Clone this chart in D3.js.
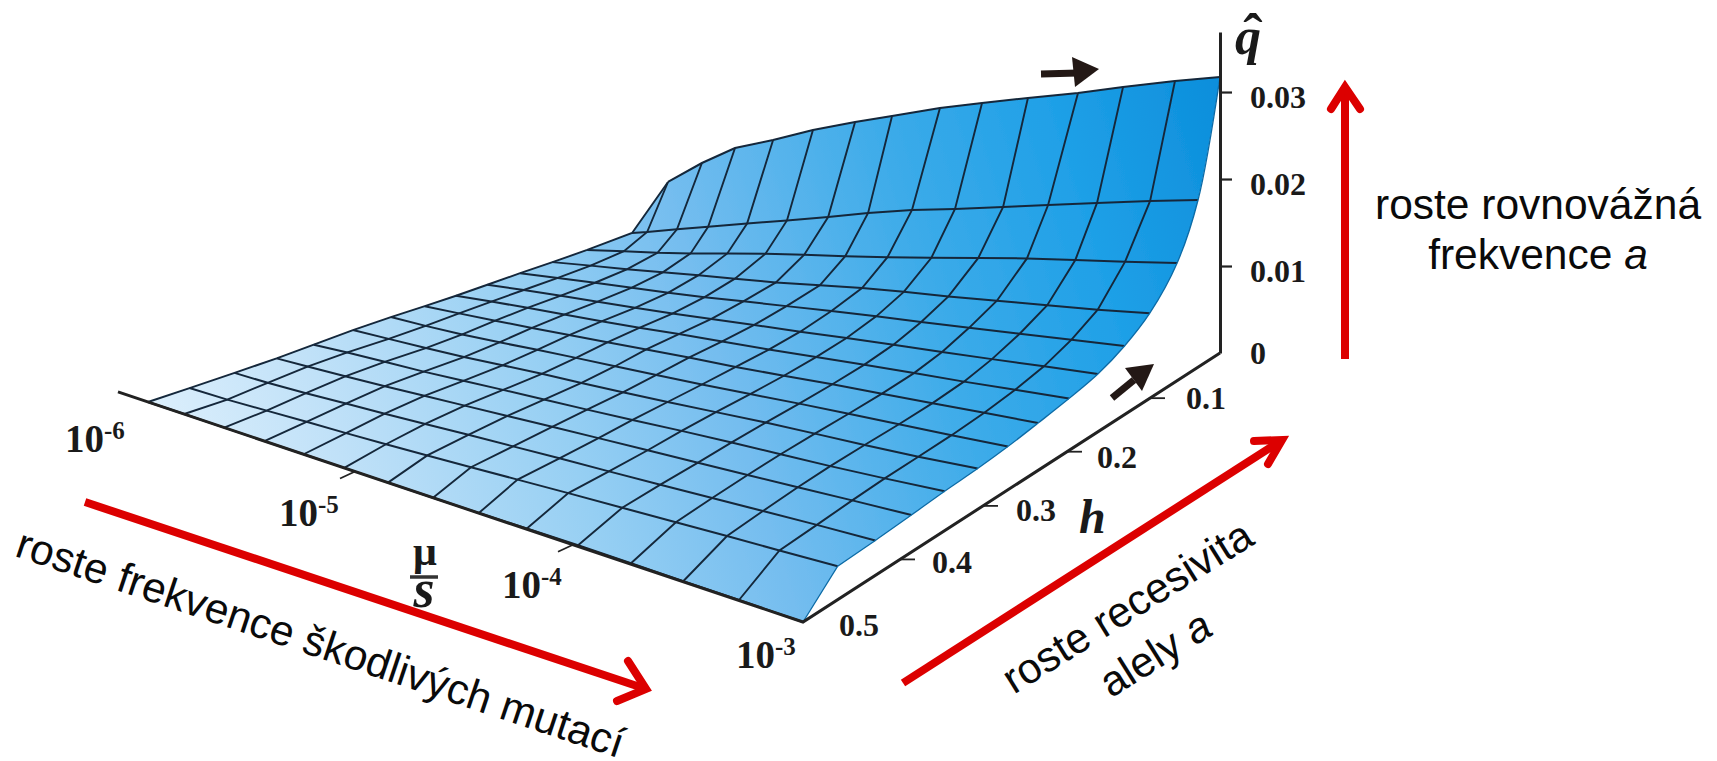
<!DOCTYPE html>
<html>
<head>
<meta charset="utf-8">
<script src="https://cdn.jsdelivr.net/npm/d3@7"></script>
<style>
  body { margin: 0; background: #fff; }
  .serif { font-family: "Liberation Serif", serif; font-weight: bold; fill: #1a1a1a; }
  .sans { font-family: "Liberation Sans", sans-serif; font-size: 42.5px; fill: #0a0a0a; }
</style>
</head>
<body>
<svg id="chart" width="1717" height="761"></svg>
<script>
const muTicks = [-6, -5, -4, -3];
const hTicks = [0.5, 0.4, 0.3, 0.2, 0.1];
const qTicks = [0, 0.01, 0.02, 0.03];

// h of every grid row, front to back
const hRows = [0.5, 0.464, 0.429, 0.386, 0.348, 0.306, 0.272, 0.238, 0.2, 0.168, 0.133, 0.103, 0.063, 0.033, 0];

// log10(mu/s) of every grid vertex, in thousandths (the mesh is not quite regular in the figure)
const muGrid = [
  [-5861, -5698, -5525, -5357, -5199, -5041, -4837, -4621, -4410, -4197, -3976, -3731, -3499, -3261, -3000],
  [-5864, -5694, -5523, -5356, -5196, -5040, -4846, -4635, -4418, -4191, -3954, -3704, -3475, -3249, -3008],
  [-5838, -5689, -5522, -5354, -5196, -5037, -4832, -4615, -4398, -4175, -3946, -3702, -3472, -3237, -2992],
  [-5856, -5716, -5550, -5381, -5219, -5058, -4859, -4639, -4419, -4194, -3969, -3731, -3499, -3257, -3004],
  [-5863, -5710, -5545, -5378, -5214, -5055, -4862, -4648, -4430, -4203, -3977, -3739, -3506, -3260, -3000],
  [-5871, -5707, -5542, -5378, -5217, -5058, -4871, -4663, -4445, -4218, -3992, -3749, -3512, -3265, -3003],
  [-5863, -5703, -5539, -5378, -5219, -5061, -4876, -4666, -4442, -4213, -3987, -3740, -3497, -3252, -3000],
  [-5871, -5712, -5549, -5388, -5230, -5073, -4890, -4671, -4438, -4207, -3980, -3729, -3482, -3238, -2993],
  [-5904, -5738, -5573, -5410, -5250, -5092, -4909, -4683, -4448, -4218, -3989, -3734, -3486, -3240, -2991],
  [-5925, -5752, -5581, -5416, -5254, -5096, -4915, -4689, -4454, -4225, -4001, -3747, -3495, -3241, -2987],
  [-5947, -5766, -5593, -5426, -5265, -5110, -4932, -4701, -4468, -4243, -4024, -3772, -3511, -3253, -2998],
  [-5939, -5755, -5585, -5421, -5262, -5105, -4911, -4674, -4453, -4241, -4021, -3762, -3499, -3244, -2990],
  [-5959, -5779, -5619, -5465, -5299, -5131, -4954, -4728, -4502, -4274, -4038, -3775, -3517, -3260, -3000],
  [-5874, -5800, -5656, -5509, -5330, -5152, -4965, -4742, -4504, -4278, -4033, -3786, -3521, -3243, -3000],
  [-5841, -5841, -5675, -5517, -5340, -5160, -4967, -4758, -4495, -4271, -4034, -3755, -3508, -3232, -3000],
];

// q-hat of every grid vertex, in units of 1e-5
const qGrid = [
  [0, 2, 0, 0, 0, 0, 0, 0, 1, 6, 10, 8, 4, 4, 0],
  [3, 10, 27, 43, 57, 73, 92, 112, 134, 157, 178, 199, 218, 234, 254],
  [51, 54, 69, 89, 107, 129, 151, 171, 191, 209, 229, 249, 268, 288, 304],
  [37, 48, 63, 82, 103, 124, 146, 168, 189, 209, 229, 247, 267, 289, 309],
  [49, 69, 83, 97, 119, 141, 161, 181, 205, 232, 255, 272, 289, 314, 346],
  [63, 75, 86, 102, 126, 150, 167, 186, 210, 239, 267, 287, 304, 328, 363],
  [88, 92, 105, 127, 154, 177, 197, 219, 242, 272, 303, 328, 351, 375, 402],
  [79, 98, 120, 145, 171, 198, 227, 255, 280, 313, 349, 378, 407, 436, 464],
  [39, 75, 108, 135, 163, 194, 232, 267, 300, 341, 383, 417, 450, 489, 526],
  [24, 68, 107, 141, 173, 209, 253, 298, 342, 389, 434, 474, 517, 563, 607],
  [9, 61, 108, 152, 193, 238, 292, 349, 407, 459, 506, 556, 610, 664, 716],
  [34, 100, 156, 219, 282, 336, 398, 475, 548, 606, 660, 724, 788, 850, 924],
  [24, 114, 189, 272, 371, 467, 554, 637, 727, 824, 929, 1030, 1116, 1200, 1291],
  [188, 244, 363, 480, 624, 765, 908, 1052, 1189, 1294, 1419, 1534, 1654, 1777, 1875],
  [791, 791, 1138, 1421, 1613, 1831, 2020, 2169, 2359, 2495, 2634, 2775, 2916, 3063, 3172],
];

const svg = d3.select("#chart");

// floor plane: (u,v) in the unit square goes to a quad on screen
const floor = { a: [148, 402], b: [803, 622], c: [1220, 353], d: [664, 238] };

function makeHomography({ a, b, c, d }) {
  const dx1 = b[0] - c[0];
  const dx2 = d[0] - c[0];
  const sx = a[0] - b[0] + c[0] - d[0];
  const dy1 = b[1] - c[1];
  const dy2 = d[1] - c[1];
  const sy = a[1] - b[1] + c[1] - d[1];
  const det = dx1 * dy2 - dx2 * dy1;
  const g = (sx * dy2 - dx2 * sy) / det;
  const h = (dx1 * sy - sx * dy1) / det;
  return (u, v) => {
    const w = 1 + g * u + h * v;
    return {
      x: (a[0] + (b[0] - a[0] + g * b[0]) * u + (d[0] - a[0] + h * d[0]) * v) / w,
      y: (a[1] + (b[1] - a[1] + g * b[1]) * u + (d[1] - a[1] + h * d[1]) * v) / w,
      w,
    };
  };
}

const homography = makeHomography(floor);
const wBack = homography(1, 1).w;

const muScale = d3.scaleLinear().domain(muTicks).range([-0.061, 0.3775, 0.708, 1]);
const hScale = d3.scaleLinear().domain([0.5, 0.4, 0.3, 0.2, 0.1, 0]).range([0, 0.1712, 0.341, 0.5403, 0.7715, 1]);
const qLift = d3.scaleLinear().domain([0, 0.01]).range([0, 87]);
const qAxisScale = d3.scaleLinear().domain([0, 0.0369]).range([floor.c[1], 32]);

function project(mu, h, q) {
  const p = homography(muScale(mu), hScale(h));
  return [p.x, p.y - (qLift(q) * wBack) / p.w];
}

const vertex = (j, i) => project(muGrid[j][i] / 1000, hRows[j], qGrid[j][i] / 100000);
const cols = d3.range(muGrid[0].length);
const rows = d3.range(hRows.length);
const rowLines = rows.map((j) => cols.map((i) => vertex(j, i)));
const colLines = cols.map((i) => rows.map((j) => vertex(j, i)));

const line = d3.line();
const curved = d3.line().curve(d3.curveCatmullRom.alpha(0.5));

// the right hand edge bends smoothly above its first cell
const edgeCol = colLines[14];
const edgePath = line(edgeCol.slice(0, 2)) + curved(edgeCol.slice(1)).replace(/^M/, "L");

// surface colour
const gradStops = [
  [0, "#dceffc"],
  [0.15, "#c0e1f8"],
  [0.35, "#96cff3"],
  [0.5, "#74bdef"],
  [0.7, "#3cabe9"],
  [0.85, "#1fa0e7"],
  [1, "#0b8edb"],
];
const defs = svg.append("defs");
const grad = defs.append("linearGradient")
  .attr("id", "surfaceFill")
  .attr("gradientUnits", "userSpaceOnUse")
  .attr("x1", floor.a[0]).attr("y1", floor.a[1])
  .attr("x2", floor.c[0]).attr("y2", 77);
grad.selectAll("stop").data(gradStops).join("stop")
  .attr("offset", (d) => d[0])
  .attr("stop-color", (d) => d[1]);
defs.append("filter").attr("id", "soft")
  .append("feGaussianBlur").attr("stdDeviation", 0.45);

const outline = [
  line(rowLines[0]),
  edgePath,
  line(rowLines[14].slice().reverse()),
  line(colLines[0].slice().reverse()),
].map((s, i) => (i ? s.replace(/^M/, "L") : s)).join("") + "Z";

const mesh = svg.append("g").attr("filter", "url(#soft)");

mesh.append("path").attr("d", outline).attr("fill", "url(#surfaceFill)");

mesh.append("g").selectAll("path").data(rowLines).join("path")
  .attr("d", line)
  .attr("fill", "none")
  .attr("stroke", "#13283a")
  .attr("stroke-width", 2);

mesh.append("g").selectAll("path").data(colLines.slice(0, 14)).join("path")
  .attr("d", line)
  .attr("fill", "none")
  .attr("stroke", "#13283a")
  .attr("stroke-width", 1.9);

mesh.append("path").attr("d", edgePath)
  .attr("fill", "none")
  .attr("stroke", "#0d6ba6")
  .attr("stroke-width", 1.3);

// floor axes
const axisColor = "#222";
const muStart = project(-6, 0.5, 0);
const corner = project(-3, 0.5, 0);
const back = project(-3, 0, 0);

svg.append("path")
  .attr("d", d3.line()([muStart, corner, back]))
  .attr("fill", "none")
  .attr("stroke", axisColor)
  .attr("stroke-width", 3);

svg.append("g").selectAll("line").data([-5, -4]).join("line")
  .attr("x1", (d) => project(d, 0.5, 0)[0])
  .attr("y1", (d) => project(d, 0.5, 0)[1])
  .attr("x2", (d) => project(d, 0.5, 0)[0] - 15)
  .attr("y2", (d) => project(d, 0.5, 0)[1] + 7)
  .attr("stroke", axisColor)
  .attr("stroke-width", 1.8);

svg.append("g").selectAll("line").data(hTicks.slice(1)).join("line")
  .attr("x1", (d) => project(-3, d, 0)[0])
  .attr("y1", (d) => project(-3, d, 0)[1])
  .attr("x2", (d) => project(-3, d, 0)[0] + 15)
  .attr("y2", (d) => project(-3, d, 0)[1])
  .attr("stroke", axisColor)
  .attr("stroke-width", 1.8);

// q axis
const qAxis = svg.append("g")
  .attr("transform", `translate(${floor.c[0]},0)`)
  .call(d3.axisRight(qAxisScale).tickValues(qTicks).tickSize(12).tickSizeOuter(0).tickPadding(18)
    .tickFormat((d) => (d === 0 ? "0" : d3.format(".2f")(d))));
qAxis.select(".domain").attr("stroke", axisColor).attr("stroke-width", 3);
qAxis.selectAll(".tick line").attr("stroke", axisColor).attr("stroke-width", 2.2)
  .attr("display", (d) => (d === 0 ? "none" : null));
qAxis.selectAll(".tick text")
  .attr("class", "serif")
  .attr("font-size", 32)
  .attr("dy", null)
  .attr("y", (d) => (d === 0 ? 10 : 15))
  .style("font-family", '"Liberation Serif", serif');

// tick labels, offsets from the tick on the axis
const muLabelOffset = { "-6": [-53, 60], "-5": [-76, 54], "-4": [-71, 53], "-3": [-67, 46] };
const muLabels = svg.append("g").selectAll("text").data(muTicks).join("text")
  .attr("class", "serif")
  .attr("font-size", 39)
  .attr("x", (d) => project(d, 0.5, 0)[0] + muLabelOffset[d][0])
  .attr("y", (d) => project(d, 0.5, 0)[1] + muLabelOffset[d][1]);
muLabels.append("tspan").text("10");
muLabels.append("tspan").attr("font-size", 25).attr("dy", -13).text((d) => d);

const hLabelOffset = { 0.5: [36, 14], 0.4: [32, 14], 0.3: [33, 15], 0.2: [30, 16], 0.1: [36, 11] };
svg.append("g").selectAll("text").data(hTicks).join("text")
  .attr("class", "serif")
  .attr("font-size", 32)
  .attr("x", (d) => project(-3, d, 0)[0] + hLabelOffset[d][0])
  .attr("y", (d) => project(-3, d, 0)[1] + hLabelOffset[d][1])
  .text((d) => d.toFixed(1));

// axis titles
svg.append("text").attr("class", "serif").attr("font-size", 52).attr("font-style", "italic")
  .attr("x", 1235).attr("y", 54).text("q");
svg.append("text").attr("class", "serif").attr("font-size", 58)
  .attr("x", 1253).attr("y", 53).attr("text-anchor", "middle").text("ˆ");
svg.append("text").attr("class", "serif").attr("font-size", 48).attr("font-style", "italic")
  .attr("x", 1079).attr("y", 533).text("h");
svg.append("text").attr("class", "serif").attr("font-size", 42)
  .attr("x", 425).attr("y", 565).attr("text-anchor", "middle").text("μ");
svg.append("line").attr("x1", 410).attr("x2", 438).attr("y1", 577).attr("y2", 577)
  .attr("stroke", "#333").attr("stroke-width", 3.5);
svg.append("text").attr("class", "serif").attr("font-size", 54).attr("font-style", "italic")
  .attr("x", 424).attr("y", 607).attr("text-anchor", "middle").text("s");

// small black arrows
const blackArrows = [
  { shaft: [[1041, 74], [1078, 73]], head: [[1072, 57], [1099, 69], [1075, 87]] },
  { shaft: [[1112, 398], [1134, 380]], head: [[1125, 368], [1154, 364], [1142, 391]] },
];
const blackG = svg.append("g").selectAll("g").data(blackArrows).join("g");
blackG.append("path").attr("d", (d) => d3.line()(d.shaft))
  .attr("stroke", "#231815").attr("stroke-width", 7).attr("fill", "none");
blackG.append("path").attr("d", (d) => d3.line()(d.head) + "Z").attr("fill", "#231815");

// red arrows
const redArrows = [
  { shaft: [[1345, 359], [1345, 88]], head: [[1331, 109], [1345, 87], [1360, 109]] },
  { shaft: [[903, 683], [1279, 442]], head: [[1254, 441], [1282, 440], [1268, 464]] },
  { shaft: [[85, 502], [643, 688]], head: [[628, 661], [646, 689], [617, 701]] },
];
const redG = svg.append("g").selectAll("g").data(redArrows).join("g")
  .attr("fill", "none").attr("stroke", "#dc0000").attr("stroke-width", 8);
redG.append("path").attr("d", (d) => d3.line()(d.shaft));
redG.append("path").attr("d", (d) => d3.line()(d.head))
  .attr("stroke-linecap", "round").attr("stroke-linejoin", "miter");

// captions
function caption(x, y, angle, parts) {
  const t = svg.append("text").attr("class", "sans").attr("text-anchor", "middle")
    .attr("transform", `translate(${x},${y}) rotate(${angle})`);
  parts.forEach(([str, italic]) => {
    t.append("tspan").attr("font-style", italic ? "italic" : null).text(str);
  });
}
caption(1538, 219, 0, [["roste rovnovážná"]]);
caption(1538, 269, 0, [["frekvence "], ["a", true]]);
caption(1135, 619, -32, [["roste recesivita"]]);
caption(1163, 666, -32, [["alely "], ["a", true]]);
caption(316, 657, 18.5, [["roste frekvence škodlivých mutací"]]);
</script>
</body>
</html>
